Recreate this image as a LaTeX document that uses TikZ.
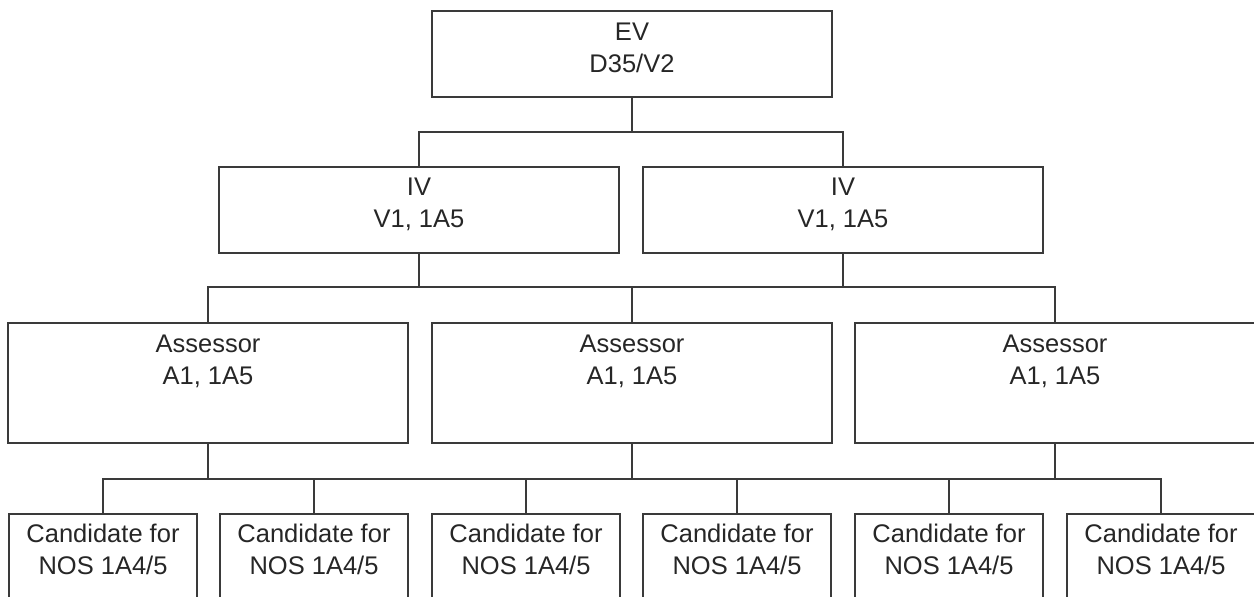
\documentclass[tikz,border=0pt]{standalone}
\usepackage{fontspec}
\setmainfont{Liberation Sans}
\definecolor{inkline}{HTML}{3A3A3A}
\definecolor{inktext}{HTML}{262626}
\begin{document}
\begin{tikzpicture}[x=1pt,y=-1pt,
  box/.style={draw=inkline,line width=1.4pt,rectangle,inner sep=0pt},
  lbl/.style={anchor=north,inner sep=0pt,align=center,text=inktext,
    font=\fontsize{25.5}{32}\selectfont},
  link/.style={draw=inkline,line width=1.4pt}]
\clip (0,0) rectangle (1254,597);
% top level
\node[box,minimum width=400pt,minimum height=86pt] (ev) at (632,54) {};
% internal verifiers
\node[box,minimum width=400pt,minimum height=86pt] (iv1) at (419,210) {};
\node[box,minimum width=400pt,minimum height=86pt] (iv2) at (843,210) {};
% assessors
\node[box,minimum width=400pt,minimum height=120pt] (as1) at (208,383) {};
\node[box,minimum width=400pt,minimum height=120pt] (as2) at (632,383) {};
\node[box,minimum width=400pt,minimum height=120pt] (as3) at (1055,383) {};
% candidates (boxes run past the lower edge)
\foreach \n/\x in {c1/103,c2/314,c3/526,c4/737,c5/949,c6/1161}
  \node[box,minimum width=188pt,minimum height=120pt] (\n) at (\x,574) {};
% labels
\node[lbl] (evt) at ([yshift=-12.5pt]ev.north) {EV\\D35/V2};
\node[lbl] (iv1t) at ([yshift=-11pt]iv1.north) {IV\\V1, 1A5};
\node[lbl] (iv2t) at ([yshift=-11pt]iv2.north) {IV\\V1, 1A5};
\foreach \n in {as1,as2,as3}
  \node[lbl] (\n t) at ([yshift=-12pt]\n.north) {Assessor\\A1, 1A5};
\foreach \n in {c1,c2,c3,c4,c5,c6}
  \node[lbl] (\n t) at ([yshift=-11pt]\n.north) {Candidate for\\NOS 1A4/5};
% connectors
\coordinate (b1) at (632,132);
\coordinate (b2) at (632,287);
\coordinate (b3) at (632,479);
\draw[link] (ev.south) -- (b1);
\draw[link] (iv1.north) |- (b1) -| (iv2.north);
\draw[link] (iv1.south) |- (b2);
\draw[link] (iv2.south) |- (b2);
\draw[link] (as1.north) |- (b2) -| (as3.north);
\draw[link] (as2.north) -- (b2);
\draw[link] (as1.south) |- (b3);
\draw[link] (as2.south) -- (b3);
\draw[link] (as3.south) |- (b3);
\draw[link] (c1.north) |- (b3) -| (c6.north);
\foreach \n in {c2,c3,c4,c5}
  \draw[link] (\n.north) -- (\n.north |- b3);
\end{tikzpicture}
\end{document}
